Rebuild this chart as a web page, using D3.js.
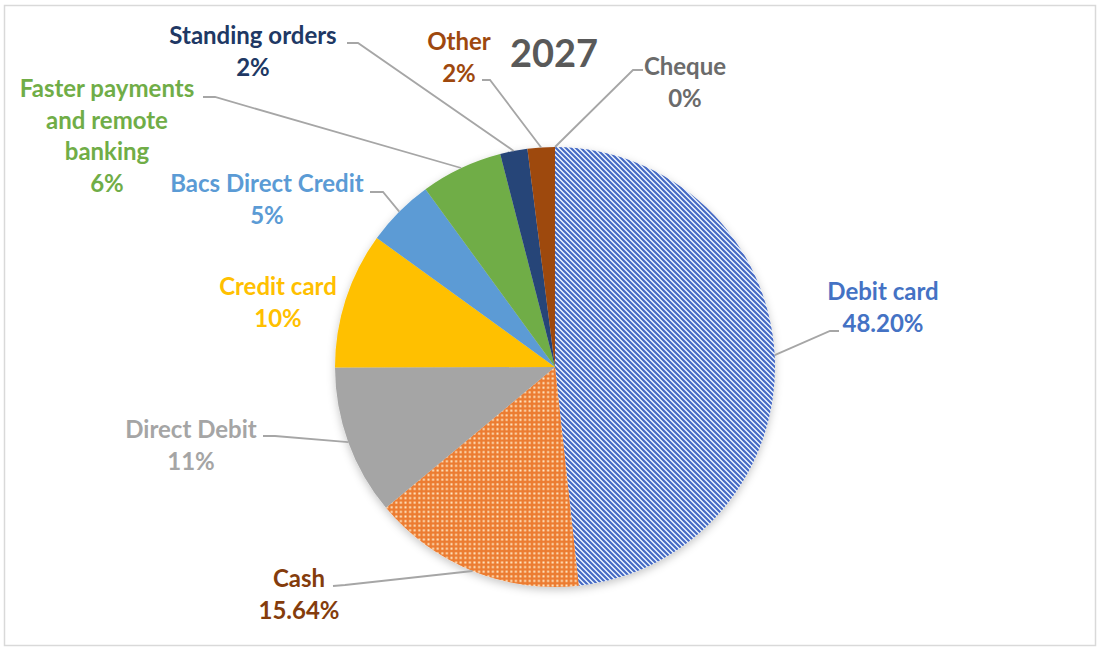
<!DOCTYPE html>
<html>
<head>
<meta charset="utf-8">
<script src="https://cdn.jsdelivr.net/npm/d3@7"></script>
<style>
  html, body { margin: 0; padding: 0; background: #fff; }
  svg { display: block; }
  text { font-family: Lato, "Open Sans", sans-serif; font-weight: 700; }
</style>
</head>
<body>
<svg id="chart" width="1097" height="649"></svg>
<script>
// Payment method shares, 2027 (percent)
const categories = ["Debit card", "Cash", "Direct Debit", "Credit card", "Bacs Direct Credit",
  "Faster payments and remote banking", "Standing orders", "Other", "Cheque"];
const shares = [48.20, 15.64, 11, 10, 5, 6, 2, 2, 0];
const decimals = [2, 2, 0, 0, 0, 0, 0, 0, 0];
const title = "2027";

const sliceFill = {
  "Debit card": "url(#stripeBlue)",
  "Cash": "url(#dotOrange)",
  "Direct Debit": "#A5A5A5",
  "Credit card": "#FFC000",
  "Bacs Direct Credit": "#5B9BD5",
  "Faster payments and remote banking": "#70AD47",
  "Standing orders": "#264478",
  "Other": "#9E480E",
  "Cheque": "#636363"
};
const labelColor = {
  "Debit card": "#4472C4",
  "Cash": "#843C0C",
  "Direct Debit": "#A5A5A5",
  "Credit card": "#FFC000",
  "Bacs Direct Credit": "#5B9BD5",
  "Faster payments and remote banking": "#70AD47",
  "Standing orders": "#203864",
  "Other": "#9E480E",
  "Cheque": "#6B6B6B"
};
// label layout: centre x, first baseline y, text lines, leader stub end / elbow
const labelLayout = {
  "Debit card": { x: 883, y: 300, lines: ["Debit card"], leader: { end: [839, 331], elbow: [830, 331] } },
  "Cash": { x: 299, y: 587, lines: ["Cash"], leader: { end: [333, 586], elbow: [345, 585] } },
  "Direct Debit": { x: 191, y: 438, lines: ["Direct Debit"], leader: { end: [263, 436], elbow: [275, 436] } },
  "Credit card": { x: 278, y: 295, lines: ["Credit card"], leader: null },
  "Bacs Direct Credit": { x: 267, y: 192, lines: ["Bacs Direct Credit"], leader: { end: [370, 192], elbow: [383, 192] } },
  "Faster payments and remote banking": { x: 107, y: 97, lines: ["Faster payments", "and remote", "banking"], leader: { end: [203, 97], elbow: [215, 97] } },
  "Standing orders": { x: 253, y: 44, lines: ["Standing orders"], leader: { end: [347, 43], elbow: [358, 43] } },
  "Other": { x: 459, y: 50, lines: ["Other"], leader: { end: [482, 80], elbow: [490, 80] } },
  "Cheque": { x: 685, y: 75, lines: ["Cheque"], leader: { end: [643, 70], elbow: [633, 70] } }
};

const svg = d3.select("#chart");
const W = 1097, H = 649;
const cx = 555, cy = 367, R = 220;
const fontSize = 24, lineH = 31.5;

// chart frame
svg.append("rect")
  .attr("x", 4.5).attr("y", 5.5).attr("width", W - 6).attr("height", H - 9)
  .attr("fill", "#fff").attr("stroke", "#D9D9D9").attr("stroke-width", 1.5);

const defs = svg.append("defs");
// downward diagonal stripes, pixel-aligned tile
const sp = 5;
const stripe = defs.append("pattern")
  .attr("id", "stripeBlue").attr("patternUnits", "userSpaceOnUse")
  .attr("width", sp).attr("height", sp);
stripe.append("rect").attr("width", sp).attr("height", sp).attr("fill", "#EEF7FF");
stripe.append("path")
  .attr("d", `M-1,-1L${sp + 1},${sp + 1}M-1,${sp - 1}L1,${sp + 1}M${sp - 1},-1L${sp + 1},1`)
  .attr("stroke", "#4468C4").attr("stroke-width", 2.1).attr("fill", "none");

const dp = 4.6;
const dots = defs.append("pattern")
  .attr("id", "dotOrange").attr("patternUnits", "userSpaceOnUse")
  .attr("width", dp).attr("height", dp);
dots.append("rect").attr("width", dp).attr("height", dp).attr("fill", "#EC7C30");
dots.append("rect").attr("x", 1.3).attr("y", 1.3).attr("width", 2).attr("height", 2).attr("fill", "#FFE9C8");

const shadow = defs.append("filter").attr("id", "pieShadow")
  .attr("x", "-20%").attr("y", "-20%").attr("width", "140%").attr("height", "140%");
shadow.append("feDropShadow").attr("dx", 0).attr("dy", 3).attr("stdDeviation", 4)
  .attr("flood-color", "#000").attr("flood-opacity", 0.22);

const data = categories.map((c, i) => ({ name: c, value: shares[i], dec: decimals[i] }));
const pie = d3.pie().sort(null).value(d => d.value);
const arcs = pie(data);
const arc = d3.arc().innerRadius(0).outerRadius(R);

const g = svg.append("g").attr("transform", `translate(${cx},${cy})`);
g.append("g").attr("filter", "url(#pieShadow)")
  .selectAll("path").data(arcs).join("path")
  .attr("d", arc)
  .attr("fill", d => sliceFill[d.data.name]);

// leader lines from slice edge midpoint to label
const edgePoint = d => {
  const a = (d.startAngle + d.endAngle) / 2;
  return [cx + R * Math.sin(a), cy - R * Math.cos(a)];
};
svg.append("g").selectAll("path")
  .data(arcs.filter(d => labelLayout[d.data.name].leader))
  .join("path")
  .attr("d", d => {
    const L = labelLayout[d.data.name].leader;
    return d3.line()([edgePoint(d), L.elbow, L.end]);
  })
  .attr("fill", "none").attr("stroke", "#A6A6A6").attr("stroke-width", 1.8);

// labels
const fmt = (v, dec) => v.toFixed(dec) + "%";
const lbl = svg.append("g").selectAll("text").data(arcs).join("text")
  .attr("text-anchor", "middle")
  .attr("font-size", fontSize)
  .attr("fill", d => labelColor[d.data.name]);
lbl.each(function (d) {
  const L = labelLayout[d.data.name];
  const t = d3.select(this);
  const lines = L.lines.concat([fmt(d.data.value, d.data.dec)]);
  lines.forEach((s, i) => {
    t.append("tspan").attr("x", L.x).attr("y", L.y + i * lineH).text(s);
  });
});

svg.append("text")
  .attr("x", 554).attr("y", 67)
  .attr("text-anchor", "middle")
  .attr("font-size", 38)
  .attr("font-weight", 900)
  .attr("fill", "#595959")
  .text(title);
</script>
</body>
</html>
